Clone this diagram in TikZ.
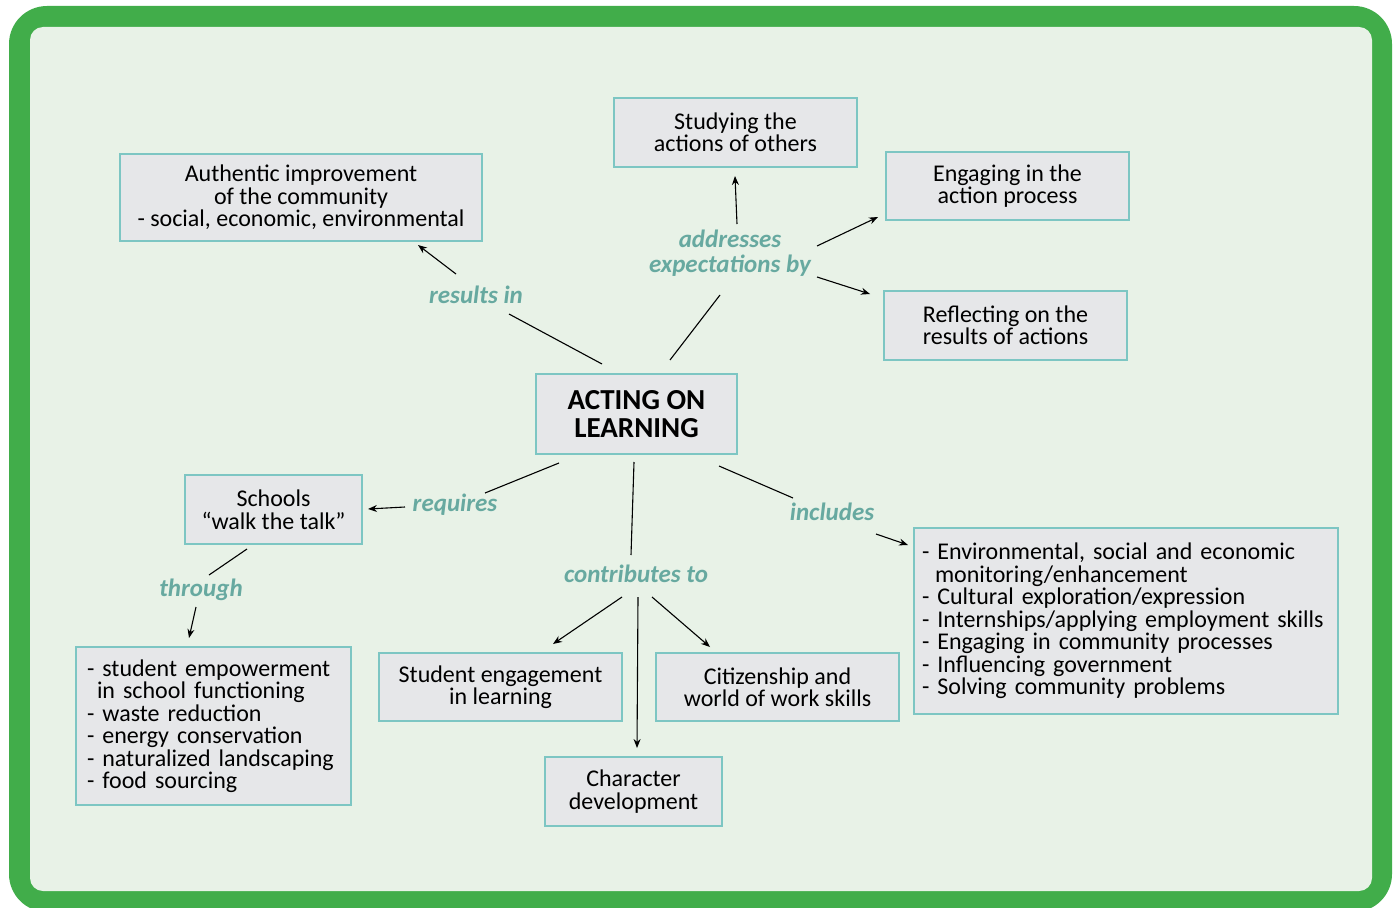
\documentclass[tikz,border=0pt]{standalone}
\usepackage{fontspec}
\setmainfont{Carlito}
\usetikzlibrary{calc,arrows.meta}
\definecolor{framegreen}{HTML}{41AD4A}
\definecolor{innerbg}{HTML}{E8F2E7}
\definecolor{boxfill}{HTML}{E6E7E9}
\definecolor{boxline}{HTML}{7DC6C3}
\definecolor{labelc}{HTML}{67A9A0}
\begin{document}
\begin{tikzpicture}[x=1pt,y=-1pt,
  box/.style={draw=boxline,line width=1.6pt,fill=boxfill,inner sep=0pt,align=center,
    font=\fontsize{24}{22.5}\selectfont},
  listbox/.style={box,align=left},
  lbl/.style={text=labelc,align=center,inner sep=0pt,
    font=\fontsize{25}{25}\selectfont\bfseries\itshape},
  conn/.style={line width=1.1pt,black},
  arr/.style={conn,-{Stealth[length=9pt,width=7pt]}}]
\useasboundingbox (0,0) rectangle (1396,907);
\begin{scope}
\clip (0,0) rectangle (1396,907);
\fill[framegreen,rounded corners=38pt] (9,6) rectangle (1392,912);
\fill[innerbg,rounded corners=13pt] (30,27) rectangle (1372,891);
\end{scope}
% boxes
\node[box,minimum width=362pt,minimum height=87pt] (auth) at (301,197.5)
  {Authentic improvement\\of the community\\- social, economic, environmental};
\node[box,minimum width=243pt,minimum height=69pt] (study) at (735.5,132.5)
  {Studying the\\actions of others};
\node[box,minimum width=243pt,minimum height=68pt] (engage) at (1007.5,186)
  {Engaging in the\\action process};
\node[box,minimum width=243pt,minimum height=69pt] (reflect) at (1005.5,325.5)
  {Reflecting on the\\results of actions};
\node[box,minimum width=201pt,minimum height=80pt,
  font=\fontsize{29}{28.5}\selectfont\bfseries] (acting) at (636.5,414)
  {ACTING ON\\LEARNING};
\node[box,minimum width=177pt,minimum height=69pt] (schools) at (273.5,509.5)
  {Schools\\“walk the talk”};
\node[listbox,text width=253pt,inner xsep=11pt,minimum height=158pt] (leftlist) at (213.5,726)
  {- student empowerment\\\hspace*{10pt}in school functioning\\- waste reduction\\- energy conservation\\- naturalized landscaping\\- food sourcing};
\node[box,minimum width=243pt,minimum height=68pt] (student) at (500.5,687)
  {Student engagement\\in learning};
\node[box,minimum width=243pt,minimum height=68pt] (citizen) at (777.5,687)
  {Citizenship and\\world of work skills};
\node[box,minimum width=177pt,minimum height=69pt] (character) at (633.5,791.5)
  {Character\\development};
\node[listbox,text width=408pt,inner xsep=8pt,minimum height=186pt] (inclist) at (1126,621)
  {- Environmental, social and economic\\\hspace*{13pt}monitoring/enhancement\\- Cultural exploration/expression\\- Internships/applying employment skills\\- Engaging in community processes\\- Influencing government\\- Solving community problems};
% labels
\node[lbl] (lres) at (476,295) {results in};
\node[lbl] (ladd) at (730,253.5) {addresses\\expectations by};
\node[lbl] (lreq) at (455,505) {requires};
\node[lbl] (linc) at (832,512) {includes};
\node[lbl] (lcon) at (636,574) {contributes to};
\node[lbl] (lthr) at (201,590) {through};
% connectors
\draw[conn] ($(acting)+(-34.5,-50)$) -- ($(lres)+(33,19)$);
\draw[arr] ($(lres)+(-20,-21)$) -- ($(auth)+(117,47.5)$);
\draw[conn] ($(acting)+(33.5,-54)$) -- ($(ladd)+(-10,41.5)$);
\draw[arr] ($(ladd)+(7,-29.5)$) -- ($(study)+(-0.5,43.5)$);
\draw[arr] ($(ladd)+(87,-7.5)$) -- ($(engage)+(-129.5,31)$);
\draw[arr] ($(ladd)+(87,23.5)$) -- ($(reflect)+(-135.5,-31.5)$);
\draw[conn] ($(acting)+(-77.5,49)$) -- ($(lreq)+(30,-12)$);
\draw[arr] ($(lreq)+(-50,2)$) -- ($(schools)+(94.5,-0.5)$);
\draw[conn] ($(acting)+(82.5,52)$) -- ($(linc)+(-39,-14)$);
\draw[arr] ($(linc)+(44,22)$) -- ($(inclist)+(-218,-76)$);
\draw[conn] ($(acting)+(-2.5,48)$) -- ($(lcon)+(-5,-19)$);
\draw[arr] ($(lcon)+(-14,23)$) -- ($(student)+(52.5,-43)$);
\draw[arr] ($(lcon)+(2,23)$) -- ($(character)+(3.5,-43.5)$);
\draw[arr] ($(lcon)+(16,23)$) -- ($(citizen)+(-67.5,-40)$);
\draw[conn] ($(schools)+(-26.5,39.5)$) -- ($(lthr)+(8,-15)$);
\draw[arr] ($(lthr)+(-5,17)$) -- ($(leftlist)+(-24.5,-88)$);
\end{tikzpicture}
\end{document}
